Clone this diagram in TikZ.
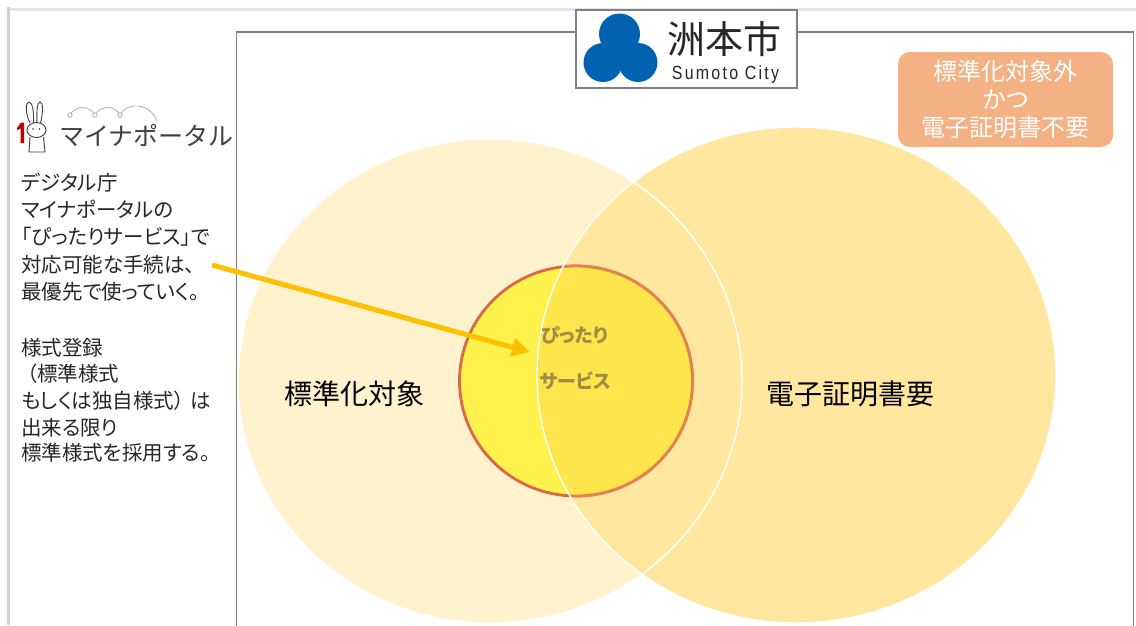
\documentclass[tikz,border=0pt]{standalone}
\usepackage{fontspec}
\setmainfont{Noto Sans CJK JP}[RawFeature=+palt]
\newfontfamily\jpwide{Noto Sans CJK JP}
\newfontfamily\latinlogo{Liberation Sans}[LetterSpace=14]
\usetikzlibrary{arrows.meta}
\definecolor{topblue}{HTML}{DFE9F5}
\definecolor{leftgray}{HTML}{D2D2D2}
\definecolor{lightgold}{HTML}{FFF2CC}
\definecolor{midgold}{HTML}{FFE7A0}
\definecolor{innerfill}{HTML}{FFF24C}
\definecolor{innerfillB}{HTML}{FFE54C}
\definecolor{innerline}{HTML}{D9684A}
\definecolor{innerlineB}{HTML}{E2824C}
\definecolor{arrowc}{HTML}{FFC000}
\definecolor{orangebox}{HTML}{F4B183}
\definecolor{logoblue}{HTML}{0062B0}
\definecolor{framegray}{HTML}{7F7F7F}
\definecolor{textgray}{HTML}{262626}
\definecolor{olivetext}{HTML}{9C8F45}
\definecolor{portalgray}{HTML}{404040}
\definecolor{dotgray}{HTML}{B0B0B0}
\definecolor{redone}{HTML}{C00000}
\tikzset{
  desc/.style={anchor=base west, inner sep=0pt, text=textgray, font=\fontsize{20.5pt}{27pt}\selectfont},
  biglabel/.style={inner sep=0pt, text=black, font=\fontsize{28pt}{30pt}\selectfont},
  svc/.style={anchor=west, inner sep=0pt, text=olivetext, font=\fontsize{19pt}{22pt}\selectfont\bfseries},
  rabbit/.style={draw=portalgray, line width=0.9pt},
  outline/.style={draw=white, line width=1.4pt}
}
\begin{document}
\begin{tikzpicture}[x=1pt,y=-1pt]
\useasboundingbox (0,0) rectangle (1136,625);
\clip (0,0) rectangle (1136,625);
\fill[white] (0,0) rectangle (1136,625);
% window edges
\draw[line width=3pt, topblue] (10,9) -- (1136,9);
\draw[line width=3pt, leftgray] (8.5,7) -- (8.5,625);
% Venn circles
\fill[lightgold] (490,381) ellipse [x radius=252pt, y radius=242pt];
\fill[midgold] (796.5,375) ellipse [x radius=259.5pt, y radius=248pt];
\filldraw[fill=innerfill, draw=innerline, line width=2.8pt] (576,381) ellipse [x radius=116.5pt, y radius=115pt];
\begin{scope}
  \clip (796.5,375) ellipse [x radius=259.5pt, y radius=248pt];
  \filldraw[fill=innerfillB, draw=innerlineB, line width=2.8pt] (576,381) ellipse [x radius=116.5pt, y radius=115pt];
\end{scope}
\draw[outline] (490,381) ellipse [x radius=252pt, y radius=242pt];
\draw[outline] (796.5,375) ellipse [x radius=259.5pt, y radius=248pt];
% main frame
\draw[framegray, line width=1.6pt] (236.5,660) -- (236.5,32) -- (1133.5,32) -- (1133.5,660);
% logo
\node[draw=framegray, fill=white, line width=1.4pt, minimum width=221pt, minimum height=78pt, inner sep=0pt] (logo) at (686.5,49) {};
\fill[logoblue] (619.5,34) circle (20.5pt);
\fill[logoblue] (603,62.5) circle (19.5pt);
\fill[logoblue] (638,62.5) circle (19.5pt);
\node[inner sep=0pt, text=textgray, font=\jpwide\fontsize{38pt}{40pt}\selectfont] (city) at (724.5,39.5) {洲本市};
\node[inner sep=0pt, text=textgray, xscale=0.84, font=\latinlogo\fontsize{19pt}{22pt}\selectfont] (cityen) at (725.5,75) {Sumoto City};
% Mynaportal logo
\draw[rabbit] (30,123) .. controls (25,113) and (25.5,102) .. (29,102) .. controls (32.5,102) and (34,112) .. (33.5,123);
\draw[rabbit] (37,123) .. controls (36.5,112) and (37,102) .. (40,102) .. controls (43.5,102) and (43,113) .. (40.5,123);
\draw[rabbit, fill=white] (36.5,130) ellipse [x radius=9.5pt, y radius=7.5pt];
\draw[rabbit] (30,137) -- (29,152) -- (45,152) -- (43.5,137);
\fill[portalgray] (33,129) circle (0.9pt);
\fill[portalgray] (39.5,129) circle (0.9pt);
\fill[redone] (17,128) -- (21,122.5) -- (24,122.5) -- (24,143) -- (20.5,143) -- (20.5,128.5) -- (17.5,130) -- cycle;
\draw[dotgray, line width=0.8pt] (70,115) .. controls (75,105) and (90,105) .. (95,115);
\draw[dotgray, line width=0.8pt] (95,115) .. controls (100,105) and (115,105) .. (120,115);
\draw[dotgray, line width=0.8pt] (120,115) .. controls (126,102) and (150,102) .. (157,121);
\foreach \px in {70,95,120} \filldraw[draw=dotgray, fill=white, line width=0.8pt] (\px,115) circle (2.2pt);
\node[anchor=west, inner sep=0pt, text=portalgray, font=\jpwide\fontsize{25pt}{27pt}\selectfont] (portal) at (59,135) {マイナポータル};
% orange box
\node[fill=orangebox, rounded corners=12pt, minimum width=215pt, minimum height=95pt, inner sep=0pt, align=center, text=white, font=\fontsize{24pt}{28pt}\selectfont] (outside) at (1005.5,99.5) {標準化対象外\\かつ\\電子証明書不要};
% left description
\node[desc] (d1) at (21,190) {デジタル庁};
\node[desc] (d2) at (21,217) {マイナポータルの};
\node[desc] (d3) at (21,244.5) {「ぴったりサービス」で};
\node[desc] (d4) at (21,272) {対応可能な手続は、};
\node[desc] (d5) at (21,299.5) {最優先で使っていく。};
\node[desc] (d6) at (21,355) {様式登録};
\node[desc] (d7) at (27,381) {（標準様式};
\node[desc] (d8) at (21,408) {もしくは独自様式）\hspace{6pt}は};
\node[desc] (d9) at (21,435) {出来る限り};
\node[desc] (d10) at (21,460) {標準様式を採用する。};
% labels
\node[biglabel] (std) at (354,394) {標準化対象};
\node[biglabel] (cert) at (850.5,394) {電子証明書要};
\node[svc] (pt1) at (541,335) {ぴったり};
\node[svc] (pt2) at (539,381) {サービス};
% arrow
\coordinate (arrS) at (212,265);
\coordinate (arrE) at (530,352);
\draw[arrowc, line width=5pt, -{Triangle[length=18pt,width=18pt]}] (arrS) -- (arrE);
\end{tikzpicture}
\end{document}
